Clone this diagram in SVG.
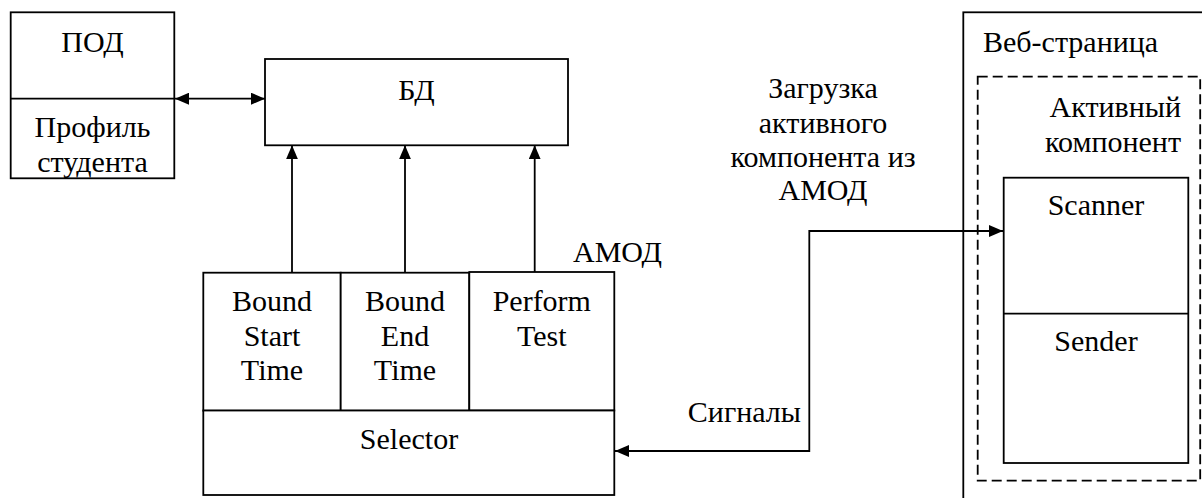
<svg xmlns="http://www.w3.org/2000/svg" width="1202" height="498" viewBox="0 0 1202 498">
<style>
.box{fill:#fff;stroke:#000;stroke-width:1.8}
.dash{fill:none;stroke:#000;stroke-width:1.8;stroke-dasharray:10 5}
.ln{fill:none;stroke:#000;stroke-width:1.8}
text{font-family:'Liberation Serif','Times New Roman',serif;font-size:30px;fill:#000}
.c{text-anchor:middle}
.e{text-anchor:end}
</style>
<defs>
<marker id="ah" viewBox="0 0 14 12" refX="14" refY="6" markerWidth="14" markerHeight="12" markerUnits="userSpaceOnUse" orient="auto-start-reverse">
<path d="M0 0 L14 6 L0 12 Z" fill="#000"/>
</marker>
</defs>
<rect width="1202" height="498" fill="#fff"/>
<g id="pod">
<rect class="box" x="10.7" y="12.3" width="163.6" height="166"/>
<line class="ln" x1="10.7" y1="98.7" x2="174.3" y2="98.7"/>
<text class="c" x="92.5" y="51.7">ПОД</text>
<text class="c" x="92.5" y="137.3">Профиль</text>
<text class="c" x="92.5" y="171.7">студента</text>
</g>
<g id="bd">
<rect class="box" x="265" y="59" width="303" height="86.3"/>
<text class="c" x="416.5" y="100">БД</text>
</g>
<g id="amod">
<text class="e" x="662" y="261.7">АМОД</text>
<rect class="box" x="203.3" y="272.7" width="137.4" height="138"/>
<text class="c" x="272" y="311">Bound</text>
<text class="c" x="272" y="345.7">Start</text>
<text class="c" x="272" y="380">Time</text>
<rect class="box" x="340.7" y="272.7" width="128.6" height="138"/>
<text class="c" x="405" y="311">Bound</text>
<text class="c" x="405" y="345.7">End</text>
<text class="c" x="405" y="380">Time</text>
<rect class="box" x="469.3" y="272" width="145" height="138.5"/>
<text class="c" x="541.8" y="311">Perform</text>
<text class="c" x="541.8" y="345.7">Test</text>
<rect class="box" x="203.3" y="410.5" width="411" height="84.5"/>
<text class="c" x="409" y="449">Selector</text>
</g>
<g id="webpage">
<rect class="box" x="963.3" y="12.3" width="300" height="600"/>
<text x="983" y="51.7">Веб-страница</text>
<rect class="dash" x="977.7" y="76.7" width="222.5" height="404"/>
<text class="e" x="1181" y="116.7">Активный</text>
<text class="e" x="1181" y="151.7">компонент</text>
<rect class="box" x="1003.7" y="177.7" width="184.6" height="285.3"/>
<line class="ln" x1="1003.7" y1="313.7" x2="1188.3" y2="313.7"/>
<text class="c" x="1096" y="215">Scanner</text>
<text class="c" x="1096" y="351.3">Sender</text>
</g>
<g id="labels">
<text class="c" x="823" y="97.7">Загрузка</text>
<text class="c" x="823" y="132.7">активного</text>
<text class="c" x="823" y="166.7">компонента из</text>
<text class="c" x="823" y="200">АМОД</text>
<text class="e" x="801" y="421.7">Сигналы</text>
</g>
<g id="connectors">
<line class="ln" x1="175" y1="98.7" x2="265" y2="98.7" marker-start="url(#ah)" marker-end="url(#ah)"/>
<line class="ln" x1="292" y1="272.7" x2="292" y2="145.3" marker-end="url(#ah)"/>
<line class="ln" x1="405" y1="272.7" x2="405" y2="145.3" marker-end="url(#ah)"/>
<line class="ln" x1="534.7" y1="272" x2="534.7" y2="145.3" marker-end="url(#ah)"/>
<polyline class="ln" points="615,451 809.3,451 809.3,231 1003,231" marker-start="url(#ah)" marker-end="url(#ah)"/>
</g>
</svg>
